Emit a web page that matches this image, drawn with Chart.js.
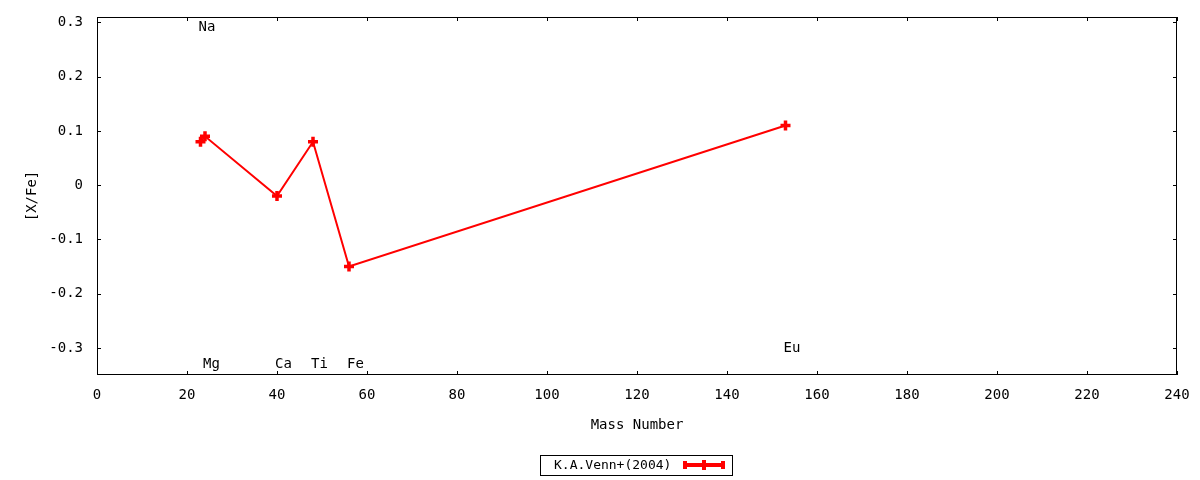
<!DOCTYPE html>
<html>
<head>
<meta charset="utf-8">
<script src="https://cdn.jsdelivr.net/npm/chart.js@4/dist/chart.umd.min.js"></script>
<style>
  html, body { margin: 0; padding: 0; background: #fff; }
  #wrap { width: 1200px; height: 480px; }
</style>
</head>
<body>
<div id="wrap"><canvas id="abundChart"></canvas></div>
<script>
// values
const massNumbers = [23, 24, 40, 48, 56, 153];
const xFe = [0.08, 0.09, -0.02, 0.08, -0.15, 0.11];
const elements = ["Na", "Mg", "Ca", "Ti", "Fe", "Eu"];
const elementLabelY = [0.29, -0.33, -0.33, -0.33, -0.33, -0.30];
const xTicks = [0, 20, 40, 60, 80, 100, 120, 140, 160, 180, 200, 220, 240];
const yTicks = [-0.3, -0.2, -0.1, 0, 0.1, 0.2, 0.3];
const yTickLabels = ["-0.3", "-0.2", "-0.1", "0", "0.1", "0.2", "0.3"];
const seriesName = "K.A.Venn+(2004)";

const FONT = "'DejaVu Sans Mono', monospace";
const RED = "#ff0000";

Chart.defaults.font.family = FONT;
Chart.defaults.font.size = 14;
Chart.defaults.color = "#000";

// gnuplot-ish frame: box, inward ticks mirrored on all sides, element labels, legend
const gnuFrame = {
  id: "gnuFrame",
  afterDraw(chart) {
    const { ctx, chartArea: a, scales } = chart;
    const xs = scales.x, ys = scales.y;
    const tl = 4;
    ctx.save();
    ctx.strokeStyle = "#000";
    ctx.lineWidth = 1;
    ctx.strokeRect(a.left + 0.5, a.top + 0.5, a.right - a.left - 1, a.bottom - a.top - 1);
    ctx.beginPath();
    xTicks.forEach((v) => {
      const px = Math.round(xs.getPixelForValue(v)) + 0.5;
      ctx.moveTo(px, a.bottom); ctx.lineTo(px, a.bottom - tl);
      ctx.moveTo(px, a.top); ctx.lineTo(px, a.top + tl);
    });
    yTicks.forEach((v) => {
      const py = Math.round(ys.getPixelForValue(v)) + 0.5;
      ctx.moveTo(a.left, py); ctx.lineTo(a.left + tl, py);
      ctx.moveTo(a.right, py); ctx.lineTo(a.right - tl, py);
    });
    ctx.stroke();

    // element names next to their mass number
    ctx.fillStyle = "#000";
    ctx.font = "14px " + FONT;
    ctx.textAlign = "left";
    ctx.textBaseline = "middle";
    elements.forEach((el, i) => {
      ctx.fillText(el, xs.getPixelForValue(massNumbers[i]) - 2, ys.getPixelForValue(elementLabelY[i]));
    });

    // legend box at the bottom
    const bx = 540, by = 455, bw = 192, bh = 20;
    ctx.strokeRect(bx + 0.5, by + 0.5, bw, bh);
    ctx.font = "13px " + FONT;
    ctx.fillText(seriesName, 554, by + bh / 2 + 1);
    const ly = by + bh / 2;
    ctx.strokeStyle = RED;
    ctx.lineWidth = 4;
    ctx.beginPath();
    ctx.moveTo(683, ly); ctx.lineTo(725, ly);
    ctx.moveTo(685, ly - 4); ctx.lineTo(685, ly + 4);
    ctx.moveTo(723, ly - 4); ctx.lineTo(723, ly + 4);
    ctx.moveTo(704, ly - 5); ctx.lineTo(704, ly + 5);
    ctx.stroke();
    ctx.restore();
  }
};

new Chart(document.getElementById("abundChart"), {
  type: "line",
  data: {
    datasets: [
      {
        label: seriesName,
        data: massNumbers.map((m, i) => ({ x: m, y: xFe[i] })),
        borderColor: RED,
        backgroundColor: RED,
        borderWidth: 2,
        tension: 0,
        pointStyle: "cross",
        pointRadius: 5,
        pointBorderWidth: 3.5,
        pointBorderColor: RED,
        pointHoverRadius: 5,
      },
    ],
  },
  options: {
    responsive: true,
    maintainAspectRatio: false,
    animation: false,
    events: [],
    layout: { padding: { left: 0, right: 23, top: 17, bottom: 0 } },
    plugins: { legend: { display: false }, tooltip: { enabled: false } },
    scales: {
      x: {
        type: "linear",
        min: 0,
        max: 240,
        grid: { display: false },
        border: { display: false },
        afterBuildTicks: (s) => { s.ticks = xTicks.map((v) => ({ value: v })); },
        afterFit: (s) => { s.height = 105; },
        ticks: { padding: 4, maxRotation: 0, autoSkip: false, callback: (v) => String(v) },
        title: { display: true, text: "Mass Number", padding: { top: 0, bottom: 46 } },
      },
      y: {
        type: "linear",
        min: -0.35,
        max: 0.31,
        grid: { display: false },
        border: { display: false },
        afterBuildTicks: (s) => { s.ticks = yTicks.map((v) => ({ value: v })); },
        afterFit: (s) => { s.width = 97; },
        ticks: { padding: 6, autoSkip: false, callback: (v, i) => yTickLabels[i] },
        title: { display: true, text: "[X/Fe]", padding: { top: 24, bottom: 0 } },
      },
    },
  },
  plugins: [gnuFrame],
});
</script>
</body>
</html>
